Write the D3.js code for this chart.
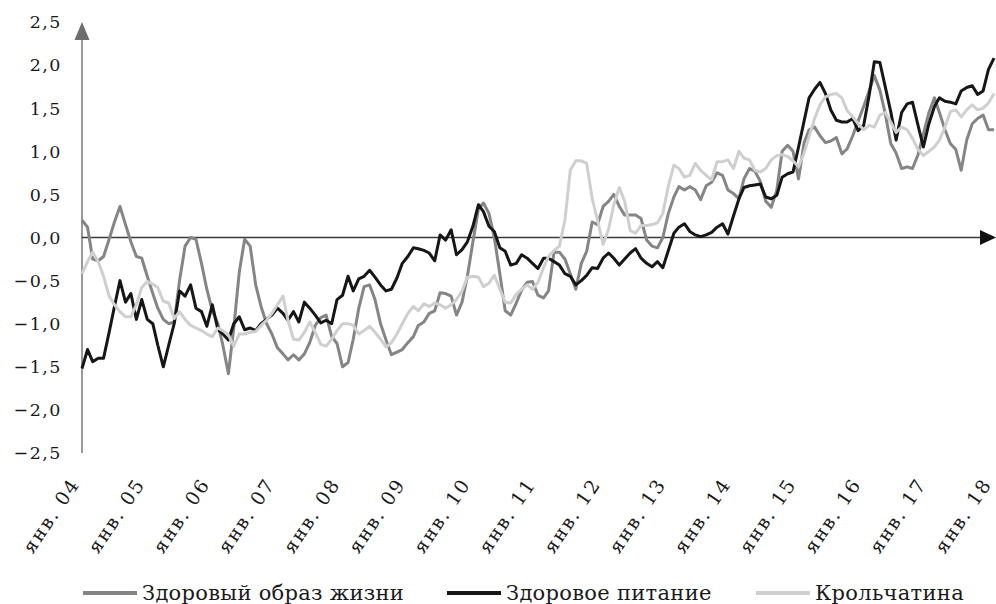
<!DOCTYPE html>
<html>
<head>
<meta charset="utf-8">
<script src="https://cdn.jsdelivr.net/npm/d3@7"></script>
<style>
  html, body { margin: 0; padding: 0; background: #fff; }
  svg { display: block; }
  text { font-family: "DejaVu Serif", "Liberation Serif", serif; fill: #1a1a1a; }
</style>
</head>
<body>
<svg id="chart" width="996" height="604"></svg>
<script>
// ---- Data (monthly, Jan 2004 – Jan 2018) ----
const startMonth = "2004-01";
const monthCount = 169;

const seriesNames = ["Здоровый образ жизни", "Здоровое питание", "Крольчатина"];

const zozh = [
  0.20, 0.12, -0.25, -0.27, -0.22, -0.02, 0.18, 0.36, 0.15, -0.05,
  -0.22, -0.24, -0.45, -0.65, -0.82, -0.95, -1.00, -0.98, -0.50, -0.10,
  0.00, -0.02, -0.30, -0.60, -0.85, -1.00, -1.25, -1.58, -1.05, -0.40,
  -0.02, -0.10, -0.55, -0.80, -1.00, -1.12, -1.28, -1.35, -1.42, -1.36,
  -1.42, -1.35, -1.22, -1.02, -0.93, -0.90, -1.15, -1.23, -1.50, -1.45,
  -1.18, -0.82, -0.57, -0.55, -0.72, -1.00, -1.19, -1.36, -1.33, -1.30,
  -1.22, -1.15, -1.02, -0.98, -0.88, -0.85, -0.64, -0.65, -0.68, -0.90,
  -0.75, -0.45, -0.05, 0.33, 0.40, 0.28, 0.00, -0.42, -0.85, -0.90,
  -0.76, -0.61, -0.52, -0.51, -0.67, -0.70, -0.62, -0.17, -0.17, -0.25,
  -0.42, -0.60, -0.30, -0.16, 0.18, 0.15, 0.36, 0.42, 0.50, 0.36,
  0.26, 0.26, 0.26, 0.22, -0.03, -0.10, -0.12, 0.00, 0.28, 0.47,
  0.59, 0.55, 0.59, 0.55, 0.44, 0.60, 0.64, 0.75, 0.72, 0.55,
  0.51, 0.45, 0.68, 0.80, 0.77, 0.65, 0.42, 0.35, 0.55, 1.00,
  1.07, 1.00, 0.68, 1.10, 1.25, 1.28, 1.18, 1.10, 1.12, 1.16,
  0.97, 1.03, 1.18, 1.35, 1.52, 1.70, 1.88, 1.71, 1.44, 1.09,
  0.98, 0.80, 0.82, 0.80, 0.96, 1.20, 1.45, 1.62, 1.45, 1.25,
  1.09, 1.02, 0.78, 1.13, 1.32, 1.38, 1.42, 1.25, 1.25
];

const pitanie = [
  -1.52, -1.30, -1.44, -1.40, -1.40, -1.10, -0.80, -0.50, -0.75, -0.65,
  -0.95, -0.72, -0.95, -1.00, -1.25, -1.50, -1.25, -1.00, -0.62, -0.68,
  -0.55, -0.82, -0.86, -1.03, -0.78, -1.07, -1.12, -1.19, -1.00, -0.92,
  -1.07, -1.05, -1.08, -1.00, -0.95, -0.90, -0.82, -0.88, -0.96, -0.86,
  -0.98, -0.75, -0.82, -0.90, -0.99, -0.96, -1.00, -0.72, -0.67, -0.45,
  -0.62, -0.48, -0.45, -0.38, -0.46, -0.55, -0.62, -0.60, -0.47, -0.30,
  -0.22, -0.12, -0.13, -0.15, -0.18, -0.27, 0.03, -0.03, 0.09, -0.20,
  -0.14, -0.05, 0.13, 0.38, 0.30, 0.13, 0.07, -0.12, -0.16, -0.32,
  -0.30, -0.20, -0.24, -0.30, -0.36, -0.24, -0.24, -0.28, -0.32, -0.42,
  -0.45, -0.55, -0.50, -0.44, -0.35, -0.36, -0.24, -0.18, -0.24, -0.32,
  -0.25, -0.18, -0.13, -0.24, -0.30, -0.34, -0.28, -0.35, -0.15, 0.05,
  0.12, 0.16, 0.07, 0.03, 0.01, 0.03, 0.06, 0.12, 0.16, 0.04,
  0.25, 0.45, 0.58, 0.60, 0.61, 0.62, 0.47, 0.45, 0.49, 0.70,
  0.74, 0.76, 1.05, 1.35, 1.62, 1.72, 1.80, 1.67, 1.48, 1.36,
  1.34, 1.34, 1.38, 1.24, 1.30, 1.65, 2.04, 2.03, 1.75, 1.46,
  1.13, 1.45, 1.55, 1.57, 1.30, 1.05, 1.32, 1.52, 1.62, 1.58,
  1.57, 1.55, 1.70, 1.74, 1.76, 1.66, 1.70, 1.95, 2.08
];

const krolchatina = [
  -0.42, -0.28, -0.17, -0.28, -0.45, -0.68, -0.78, -0.86, -0.92, -0.92,
  -0.78, -0.58, -0.51, -0.54, -0.58, -0.74, -0.76, -0.94, -0.86, -0.95,
  -1.02, -1.05, -1.08, -1.12, -1.15, -1.05, -1.08, -1.13, -1.26, -1.12,
  -1.12, -1.10, -1.09, -1.02, -0.96, -0.88, -0.78, -0.68, -0.96, -1.18,
  -1.19, -1.10, -0.98, -1.10, -1.24, -1.26, -1.18, -1.08, -1.00, -1.00,
  -1.02, -1.12, -1.08, -1.03, -1.10, -1.18, -1.27, -1.22, -1.12, -1.00,
  -0.88, -0.80, -0.85, -0.77, -0.80, -0.76, -0.78, -0.82, -0.78, -0.72,
  -0.62, -0.46, -0.45, -0.46, -0.57, -0.53, -0.44, -0.60, -0.75, -0.76,
  -0.66, -0.60, -0.55, -0.60, -0.52, -0.35, -0.22, -0.15, -0.10, 0.20,
  0.78, 0.89, 0.89, 0.86, 0.45, 0.20, -0.08, 0.10, 0.38, 0.58,
  0.42, 0.08, 0.05, 0.14, 0.14, 0.15, 0.17, 0.28, 0.60, 0.84,
  0.80, 0.70, 0.72, 0.86, 0.78, 0.72, 0.67, 0.88, 0.88, 0.90,
  0.80, 1.00, 0.92, 0.90, 0.78, 0.76, 0.80, 0.90, 0.95, 0.96,
  0.94, 0.89, 0.82, 0.98, 1.17, 1.38, 1.54, 1.63, 1.66, 1.67,
  1.62, 1.47, 1.40, 1.32, 1.25, 1.30, 1.28, 1.42, 1.45, 1.34,
  1.22, 1.28, 1.25, 1.15, 1.02, 0.95, 1.00, 1.05, 1.13, 1.28,
  1.46, 1.48, 1.40, 1.48, 1.54, 1.48, 1.50, 1.56, 1.67
];

const yTicks = [-2.5, -2.0, -1.5, -1.0, -0.5, 0.0, 0.5, 1.0, 1.5, 2.0, 2.5];
const yTickLabels = ["−2,5", "−2,0", "−1,5", "−1,0", "−0,5", "0,0", "0,5", "1,0", "1,5", "2,0", "2,5"];
const xTickYears = [2004, 2005, 2006, 2007, 2008, 2009, 2010, 2011, 2012, 2013, 2014, 2015, 2016, 2017, 2018];
const xTickLabels = ["янв. 04", "янв. 05", "янв. 06", "янв. 07", "янв. 08", "янв. 09", "янв. 10",
  "янв. 11", "янв. 12", "янв. 13", "янв. 14", "янв. 15", "янв. 16", "янв. 17", "янв. 18"];

const seriesColors = ["#858585", "#161616", "#cfcfcf"];

// ---- Build ----
const parse = d3.utcParse("%Y-%m");
const start = parse(startMonth);
const months = d3.range(monthCount).map(i => d3.utcMonth.offset(start, i));
const seriesValues = [zozh, pitanie, krolchatina];
const series = seriesNames.map((name, k) => ({
  name, color: seriesColors[k],
  points: months.map((d, i) => ({ date: d, value: seriesValues[k][i] }))
}));

const svg = d3.select("#chart");

const x = d3.scaleUtc()
  .domain([start, months[months.length - 1]])
  .range([82, 994]);
const y = d3.scaleLinear().domain([-2.5, 2.5]).range([453, 22]);

// Y axis line + arrow
svg.append("line")
  .attr("x1", x(start)).attr("x2", x(start))
  .attr("y1", y(-2.5)).attr("y2", y(2.5) + 14)
  .attr("stroke", "#6e6e6e").attr("stroke-width", 1.4);
svg.append("path")
  .attr("d", d3.line()([[x(start), y(2.5)], [x(start) - 7.5, y(2.5) + 18], [x(start) + 7.5, y(2.5) + 18]]) + "Z")
  .attr("fill", "#6e6e6e");

// Y tick labels
svg.append("g").selectAll("text").data(yTicks).join("text")
  .attr("x", 62)
  .attr("y", d => y(d))
  .attr("dy", "0.36em")
  .attr("text-anchor", "end")
  .attr("font-size", 17.5)
  .attr("letter-spacing", 1.5)
  .text((d, i) => yTickLabels[i]);

// X axis (zero line) + arrow
svg.append("line")
  .attr("x1", x(start)).attr("x2", 984)
  .attr("y1", y(0)).attr("y2", y(0))
  .attr("stroke", "#3a3a3a").attr("stroke-width", 1.4);
svg.append("path")
  .attr("d", d3.line()([[996, y(0)], [980, y(0) - 7.5], [980, y(0) + 7.5]]) + "Z")
  .attr("fill", "#111");

// X tick labels (rotated)
svg.append("g").selectAll("text").data(xTickYears).join("text")
  .attr("transform", d => `translate(${x(Date.UTC(d, 0, 1)) - 7},480) rotate(-56)`)
  .attr("text-anchor", "end")
  .attr("dy", "0.35em")
  .attr("font-size", 19)
  .attr("letter-spacing", 2)
  .text((d, i) => xTickLabels[i]);

// Lines
const line = d3.line().x(d => x(d.date)).y(d => y(d.value));
svg.append("g").selectAll("path").data(series).join("path")
  .attr("d", s => line(s.points))
  .attr("fill", "none")
  .attr("stroke", s => s.color)
  .attr("stroke-width", 3)
  .attr("stroke-linejoin", "round");

// Legend
const legendX = [83, 447, 756];
const lg = svg.append("g").selectAll("g").data(series).join("g")
  .attr("transform", (s, i) => `translate(${legendX[i]},593)`);
lg.append("line").attr("x1", 0).attr("x2", 54).attr("y1", 0).attr("y2", 0)
  .attr("stroke", s => s.color).attr("stroke-width", 4);
lg.append("text").attr("x", 59).attr("y", 7)
  .attr("font-size", 21)
  .attr("letter-spacing", 0.3)
  .text(s => s.name);
</script>
</body>
</html>
